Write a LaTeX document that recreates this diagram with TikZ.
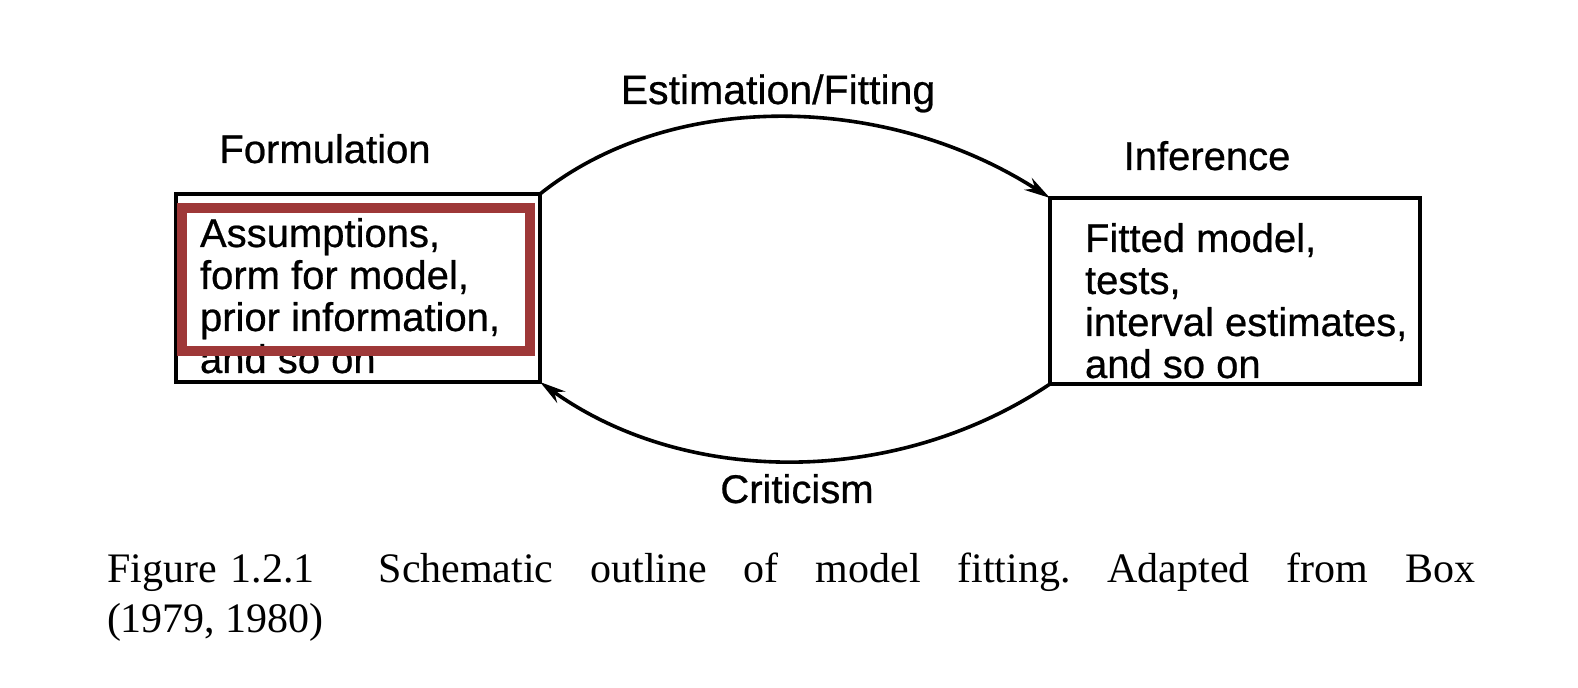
\documentclass[tikz,border=0pt]{standalone}
\usepackage{fontspec}
\setmainfont{Liberation Sans}[FakeBold=0.6]
\newfontfamily\capfont{Liberation Serif}
\usetikzlibrary{arrows.meta}
\definecolor{hilite}{RGB}{158,56,56}
\frenchspacing
\tikzset{
  every node/.style={inner sep=0pt, outer sep=0pt},
  sans/.style={font=\fontsize{20}{21}\selectfont},
  boxnode/.style={draw, line width=1.8pt, rectangle},
  arcline/.style={line width=1.8pt, -{Stealth[length=13pt, width=7pt]}},
  highlight/.style={draw=hilite, line width=5pt}
}
\begin{document}
\begin{tikzpicture}[x=0.5pt, y=-0.5pt]
\useasboundingbox (0,0) rectangle (1578,688);
% boxes
\node[boxnode, minimum width=182pt, minimum height=94pt] (lbox) at (358,288) {};
\node[boxnode, minimum width=185pt, minimum height=93pt] (rbox) at (1235,291) {};
% box texts
\node[sans, anchor=base west] (ltext) at (200,247)
  {\begin{tabular}[t]{@{}l@{}}Assumptions,\\form for model,\\prior information,\\and so on\end{tabular}};
\node[sans, anchor=base west] (rtext) at (1085,252)
  {\begin{tabular}[t]{@{}l@{}}Fitted model,\\tests,\\interval estimates,\\and so on\end{tabular}};
% labels
\node[sans, anchor=base] (form) at (325,163) {Formulation};
\node[sans, anchor=base] (infer) at (1207,170) {Inference};
\node[sans, anchor=base, font=\fontsize{20.5}{21}\selectfont] (est) at (778,104) {Estimation/Fitting};
\node[sans, anchor=base] (crit) at (797,503) {Criticism};
% arcs
\draw[arcline] (lbox.north east) .. controls +(130,-104) and +(-165,-106) .. (rbox.north west);
\draw[arcline] (rbox.south west) .. controls +(-155,104) and +(145,104) .. (lbox.south east);
% highlight
\node[highlight, minimum width=174.25pt, minimum height=71.5pt] (hl) at (355.75,279.5) {};
% caption
\node[anchor=base west, font=\capfont\fontsize{21}{25}\selectfont] (cap) at (107,582)
  {\begin{tabular}[t]{@{}l@{}}\makebox[684pt][s]{Figure\hspace{7pt}1.2.1\hspace{32pt}Schematic outline of model fitting. Adapted from Box}\\(1979, 1980)\end{tabular}};
\end{tikzpicture}
\end{document}
